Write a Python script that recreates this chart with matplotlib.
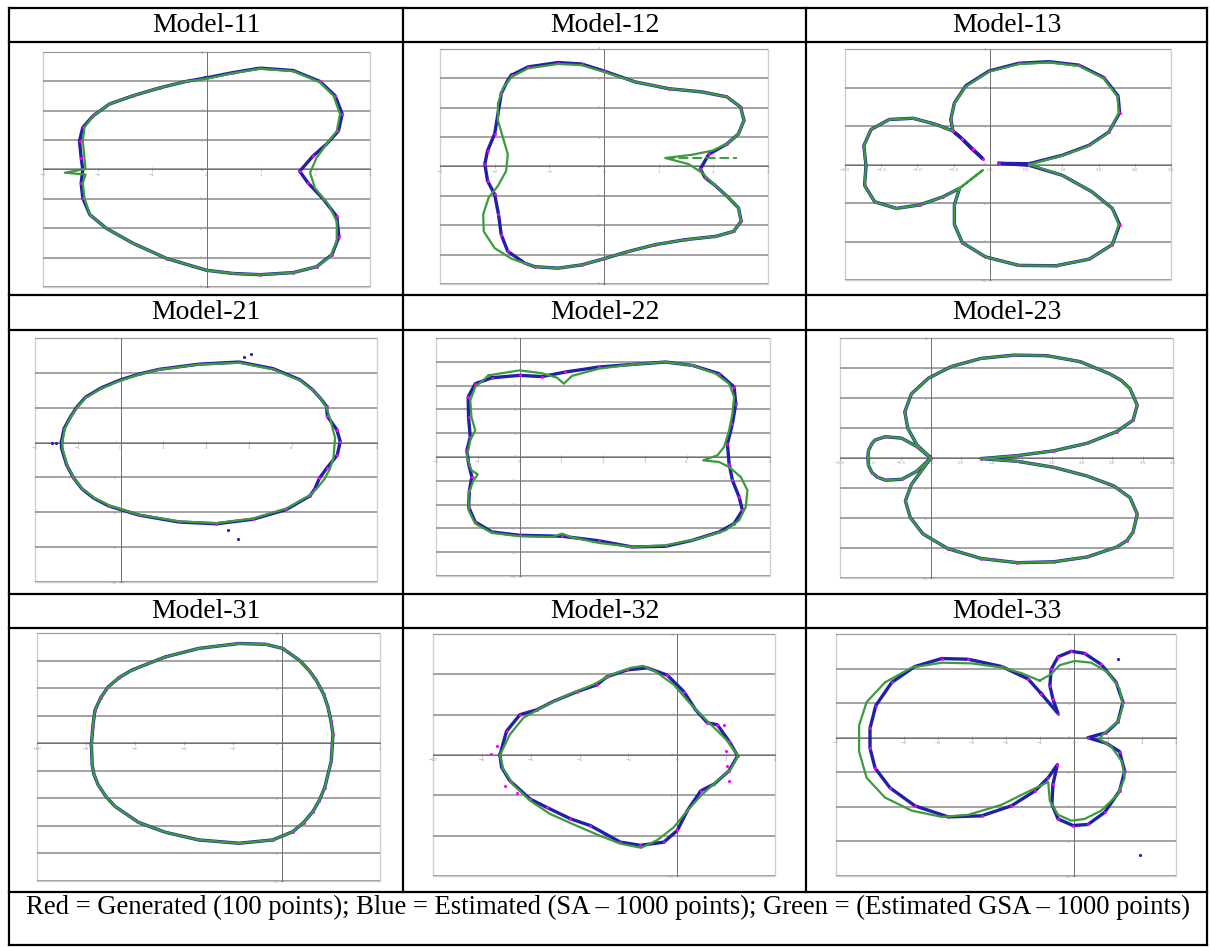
import matplotlib
matplotlib.use("Agg")
import matplotlib.pyplot as plt
from matplotlib.lines import Line2D
from matplotlib.patches import Rectangle
from matplotlib.ticker import MultipleLocator

W, H = 1210, 947

# --- data ----------------------------------------------------------------
model_names = ["Model-11", "Model-12", "Model-13",
               "Model-21", "Model-22", "Model-23",
               "Model-31", "Model-32", "Model-33"]

x_limits = [(-3, 3), (-3, 3), (-2, 2.5), (-2, 6), (-2, 6), (-1.5, 4), (-10, 4), (-10, 4), (-7, 3)]
y_limits = [(-4, 4), (-4, 4), (-3, 3), (-4, 3), (-5, 5), (-4, 4), (-5, 4), (-3, 3), (-4, 3)]
x_steps = [1, 1, 0.5, 1, 1, 0.5, 2, 2, 1]
y_steps = [1, 1, 1, 1, 1, 1, 1, 1, 1]

m11_green = [(0, 3.09), (0.49, 3.28), (0.98, 3.43), (1.59, 3.35), (2.08, 2.97), (2.33, 2.51), (2.45, 1.89),
             (2.39, 1.31), (2.20, 0.86), (2.02, 0.40), (1.90, -0.11), (1.99, -0.63), (2.24, -1.20), (2.39, -1.77),
             (2.39, -2.46), (2.27, -2.97), (2.02, -3.31), (1.59, -3.51), (0.98, -3.58), (0.49, -3.54), (0, -3.43),
             (-0.73, -3.03), (-1.35, -2.51), (-1.84, -2.0), (-2.14, -1.54), (-2.24, -0.97), (-2.27, -0.46),
             (-2.22, -0.17), (-2.60, -0.11), (-2.22, 0.02), (-2.24, 0.40), (-2.27, 0.97), (-2.24, 1.43),
             (-2.08, 1.83), (-1.78, 2.23), (-1.35, 2.51), (-0.86, 2.78), (-0.37, 3.0)]
m11_blue = [(0, 3.12), (0.49, 3.30), (0.98, 3.45), (1.59, 3.37), (2.08, 3.0), (2.36, 2.51), (2.49, 1.89),
            (2.42, 1.31), (2.20, 0.86), (1.95, 0.45), (1.71, -0.06), (1.86, -0.45), (2.14, -1.0), (2.39, -1.6),
            (2.43, -2.3), (2.30, -2.9), (2.02, -3.31), (1.59, -3.51), (0.98, -3.58), (0.49, -3.54), (0, -3.43),
            (-0.73, -3.03), (-1.35, -2.51), (-1.84, -2.0), (-2.14, -1.54), (-2.27, -0.97), (-2.30, -0.46),
            (-2.27, 0.0), (-2.30, 0.40), (-2.33, 0.97), (-2.27, 1.43), (-2.08, 1.83), (-1.78, 2.23),
            (-1.35, 2.51), (-0.86, 2.78), (-0.37, 3.0)]

m12_green = [(-1.69, 3.05), (-1.39, 3.34), (-0.84, 3.49), (-0.41, 3.45), (0, 3.22), (0.57, 2.88), (1.18, 2.65),
             (1.79, 2.54), (2.25, 2.37), (2.50, 2.02), (2.56, 1.57), (2.46, 1.11), (2.25, 0.77), (1.98, 0.54),
             (1.61, 0.40), (1.12, 0.29), (1.55, 0.08), (1.79, -0.21), (2.01, -0.61), (2.25, -1.01), (2.46, -1.41),
             (2.51, -1.86), (2.37, -2.21), (2.04, -2.38), (1.49, -2.49), (0.94, -2.66), (0.45, -2.89), (0, -3.14),
             (-0.41, -3.35), (-0.84, -3.46), (-1.27, -3.41), (-1.69, -3.14), (-2.0, -2.78), (-2.2, -2.21),
             (-2.21, -1.63), (-2.11, -1.06), (-1.94, -0.66), (-1.79, -0.15), (-1.76, 0.42), (-1.85, 0.99),
             (-1.94, 1.57), (-1.94, 2.14), (-1.85, 2.65)]
m12_green_tail = [(1.12, 0.29), (2.43, 0.29)]
m12_blue = [(-1.69, 3.11), (-1.39, 3.39), (-0.84, 3.54), (-0.41, 3.49), (0, 3.25), (0.57, 2.88), (1.18, 2.65),
            (1.79, 2.54), (2.25, 2.37), (2.50, 2.02), (2.56, 1.57), (2.46, 1.11), (2.25, 0.77), (1.92, 0.42),
            (1.76, -0.09), (1.85, -0.38), (2.01, -0.61), (2.25, -1.01), (2.46, -1.41), (2.51, -1.86), (2.37, -2.21),
            (2.04, -2.38), (1.49, -2.49), (0.94, -2.66), (0.45, -2.89), (0, -3.14), (-0.41, -3.35), (-0.84, -3.46),
            (-1.27, -3.41), (-1.45, -3.29), (-1.76, -2.89), (-1.88, -2.32), (-1.93, -1.63), (-2.0, -0.95),
            (-2.13, -0.49), (-2.18, 0.08), (-2.13, 0.54), (-2.0, 1.11), (-1.94, 1.79), (-1.88, 2.48), (-1.76, 2.94)]

m13_green = [(0.54, 0), (1.0, 0.23), (1.37, 0.49), (1.64, 0.83), (1.78, 1.34), (1.76, 1.77), (1.57, 2.24),
             (1.23, 2.56), (0.82, 2.65), (0.40, 2.61), (-0.01, 2.41), (-0.33, 2.03), (-0.49, 1.60), (-0.54, 1.17),
             (-0.51, 0.87), (-0.74, 1.04), (-1.06, 1.20), (-1.39, 1.17), (-1.64, 0.91), (-1.74, 0.49),
             (-1.71, -0.03), (-1.73, -0.54), (-1.59, -0.97), (-1.29, -1.14), (-0.97, -1.05), (-0.65, -0.84),
             (-0.42, -0.62), (-0.10, -0.15), (-0.42, -0.62), (-0.49, -1.05), (-0.49, -1.56), (-0.38, -2.03),
             (-0.06, -2.40), (0.40, -2.62), (0.91, -2.63), (1.37, -2.46), (1.69, -2.08), (1.78, -1.56),
             (1.69, -1.14), (1.41, -0.71), (1.0, -0.28)]
m13_blue = [(0.13, 0.03), (0.54, 0.02), (1.0, 0.24), (1.37, 0.50), (1.64, 0.84), (1.79, 1.34), (1.77, 1.78),
            (1.57, 2.26), (1.23, 2.58), (0.82, 2.67), (0.40, 2.63), (-0.01, 2.43), (-0.33, 2.05), (-0.49, 1.60),
            (-0.54, 1.17), (-0.51, 0.87), (-0.38, 0.66), (-0.24, 0.40), (-0.10, 0.15), (-0.24, 0.40),
            (-0.38, 0.66), (-0.51, 0.87), (-0.74, 1.04), (-1.06, 1.20), (-1.39, 1.17), (-1.64, 0.91),
            (-1.74, 0.49), (-1.71, -0.03), (-1.73, -0.54), (-1.59, -0.97), (-1.29, -1.14), (-0.97, -1.05),
            (-0.65, -0.84), (-0.42, -0.62), (-0.49, -1.05), (-0.49, -1.56), (-0.38, -2.03), (-0.06, -2.40),
            (0.40, -2.62), (0.91, -2.63), (1.37, -2.46), (1.69, -2.08), (1.79, -1.56), (1.69, -1.14),
            (1.41, -0.71), (1.0, -0.28), (0.54, -0.02)]

m21_green = [(-1.36, 0.03), (-1.30, 0.40), (-1.18, 0.70), (-1.02, 1.00), (-0.82, 1.28), (-0.45, 1.55), (0, 1.78),
             (0.45, 1.96), (0.90, 2.09), (1.84, 2.24), (2.78, 2.29), (3.57, 2.10), (4.20, 1.78), (4.48, 1.52),
             (4.67, 1.28), (4.82, 1.00), (4.90, 0.70), (5.02, 0.13), (4.98, -0.45), (4.90, -0.75), (4.78, -1.03),
             (4.62, -1.28), (4.43, -1.51), (3.88, -1.89), (3.10, -2.18), (2.24, -2.31), (1.37, -2.26),
             (0.43, -2.07), (-0.27, -1.80), (-0.62, -1.58), (-0.90, -1.32), (-1.10, -1.00), (-1.25, -0.64),
             (-1.36, -0.16)]
m21_blue = [(-1.38, 0.03), (-1.32, 0.40), (-1.18, 0.72), (-1.02, 1.02), (-0.82, 1.30), (-0.45, 1.57), (0, 1.80),
            (0.45, 1.97), (0.90, 2.10), (1.84, 2.25), (2.78, 2.31), (3.57, 2.12), (4.20, 1.80), (4.48, 1.53),
            (4.67, 1.28), (4.82, 1.04), (4.84, 0.75), (5.06, 0.37), (5.14, 0.03), (5.07, -0.36), (4.82, -0.74),
            (4.65, -1.03), (4.55, -1.32), (4.43, -1.53), (3.88, -1.92), (3.10, -2.20), (2.24, -2.33),
            (1.37, -2.28), (0.43, -2.08), (-0.27, -1.82), (-0.62, -1.60), (-0.90, -1.33), (-1.10, -1.01),
            (-1.26, -0.64), (-1.38, -0.16)]
m21_stray = [(2.90, 2.45), (3.06, 2.55), (2.51, -2.52), (2.75, -2.78), (-1.61, 0.0), (-1.5, 0.0)]

m22_green = [(-0.74, 3.43), (0, 3.64), (0.54, 3.52), (0.90, 3.33), (1.06, 3.08), (1.26, 3.41), (1.90, 3.71),
             (2.70, 3.89), (3.50, 3.99), (4.14, 3.85), (4.70, 3.50), (5.02, 3.08), (5.14, 2.52), (5.10, 1.82),
             (5.02, 1.12), (4.90, 0.42), (4.74, 0.07), (4.40, -0.14), (4.78, -0.21), (5.02, -0.42), (5.30, -0.84),
             (5.46, -1.40), (5.42, -2.10), (5.26, -2.66), (4.94, -3.08), (4.30, -3.43), (3.50, -3.71),
             (2.70, -3.78), (1.90, -3.61), (1.26, -3.38), (1.02, -3.22), (0.78, -3.36), (0, -3.33), (-0.66, -3.19),
             (-1.06, -2.80), (-1.22, -2.24), (-1.22, -1.54), (-1.10, -0.98), (-1.0, -0.73), (-1.15, -0.56),
             (-1.26, 0), (-1.18, 0.70), (-1.06, 1.12), (-1.15, 1.68), (-1.18, 2.38), (-1.06, 2.94)]
m22_blue = [(-0.66, 3.33), (0, 3.43), (0.54, 3.38), (1.10, 3.57), (1.90, 3.78), (2.70, 3.89), (3.50, 3.99),
            (4.14, 3.85), (4.78, 3.50), (5.14, 2.94), (5.18, 2.24), (5.10, 1.40), (4.98, 0.56), (5.02, -0.28),
            (5.10, -0.98), (5.26, -1.68), (5.34, -2.24), (5.14, -2.80), (4.78, -3.15), (4.14, -3.50),
            (3.50, -3.75), (2.70, -3.78), (1.90, -3.52), (1.02, -3.33), (0, -3.29), (-0.66, -3.15), (-1.06, -2.73),
            (-1.22, -2.10), (-1.20, -1.40), (-1.14, -0.84), (-1.22, -0.28), (-1.26, 0.28), (-1.18, 0.84),
            (-1.22, 1.68), (-1.23, 2.52), (-1.06, 3.08)]

m23_green = [(0, 0), (-0.23, 0.38), (-0.48, 0.66), (-0.75, 0.71), (-0.92, 0.60), (-0.97, 0.49), (-1.03, 0.25),
             (-1.04, 0), (-1.03, -0.25), (-0.97, -0.49), (-0.88, -0.64), (-0.75, -0.74), (-0.48, -0.71),
             (-0.23, -0.44), (0, 0), (-0.32, -0.88), (-0.42, -1.43), (-0.34, -1.98), (-0.13, -2.53),
             (0.28, -3.02), (0.83, -3.35), (1.43, -3.49), (2.03, -3.46), (2.58, -3.30), (3.07, -2.97),
             (3.24, -2.75), (3.34, -2.47), (3.41, -1.87), (3.29, -1.32), (3.02, -0.93), (2.58, -0.60),
             (2.03, -0.31), (1.43, -0.11), (0.83, -0.02), (1.43, 0.08), (2.03, 0.24), (2.58, 0.49), (3.07, 0.88),
             (3.34, 1.26), (3.41, 1.76), (3.29, 2.31), (3.15, 2.58), (2.96, 2.80), (2.47, 3.21), (1.92, 3.41),
             (1.38, 3.43), (0.83, 3.32), (0.34, 3.05), (-0.04, 2.66), (-0.32, 2.14), (-0.43, 1.54),
             (-0.38, 0.99), (-0.23, 0.44)]
m23_blue = list(m23_green)

m31_green = [(-7.78, -0.04), (-7.72, 0.60), (-7.64, 1.18), (-7.40, 1.65), (-7.10, 2.04), (-6.65, 2.38),
             (-6.14, 2.65), (-4.77, 3.13), (-3.40, 3.44), (-1.75, 3.62), (-0.66, 3.59), (0.03, 3.44),
             (0.71, 3.01), (1.10, 2.65), (1.40, 2.28), (1.70, 1.78), (1.88, 1.30), (2.00, 0.80), (2.08, 0.33),
             (2.01, -0.65), (1.74, -1.62), (1.52, -2.08), (1.26, -2.48), (0.88, -2.88), (0.44, -3.21),
             (-0.38, -3.51), (-1.75, -3.63), (-3.40, -3.51), (-4.77, -3.23), (-5.86, -2.87), (-6.82, -2.29),
             (-7.20, -1.92), (-7.51, -1.50), (-7.68, -1.12), (-7.75, -0.77)]
m31_blue = list(m31_green)

m32_green = [(-7.26, 0), (-6.85, 0.51), (-6.30, 0.92), (-5.48, 1.20), (-4.52, 1.48), (-3.42, 1.75), (-2.74, 1.98),
             (-1.92, 2.16), (-1.40, 2.21), (-0.89, 2.07), (-0.14, 1.74), (0.55, 1.26), (1.30, 0.80), (1.99, 0.39),
             (2.49, -0.02), (2.19, -0.35), (1.64, -0.64), (1.03, -0.97), (0.41, -1.38), (-0.14, -1.79),
             (-0.82, -2.11), (-1.48, -2.30), (-2.33, -2.20), (-3.29, -1.97), (-4.25, -1.72), (-5.21, -1.46),
             (-6.03, -1.13), (-6.71, -0.74), (-7.12, -0.35)]
m32_blue = [(-7.26, 0), (-6.99, 0.59), (-6.44, 1.0), (-5.75, 1.12), (-5.07, 1.33), (-4.11, 1.57), (-3.29, 1.74),
            (-2.88, 1.94), (-2.05, 2.11), (-1.23, 2.16), (-0.41, 1.98), (0.27, 1.57), (0.75, 1.12), (1.23, 0.80),
            (1.64, 0.75), (2.12, 0.34), (2.47, -0.02), (2.12, -0.39), (1.51, -0.72), (0.96, -0.89), (0.41, -1.38),
            (0, -1.87), (-0.55, -2.16), (-1.51, -2.24), (-2.33, -2.16), (-3.56, -1.75), (-4.38, -1.58),
            (-5.34, -1.30), (-6.03, -1.09), (-6.85, -0.64), (-7.19, -0.31)]
m32_red_stray = [(-7.64, 0.02), (-7.4, 0.22), (-7.06, -0.76), (-6.58, -0.93), (1.92, 0.75), (1.99, 0.10),
                 (2.05, -0.27), (2.12, -0.64)]

m33_green = [(-1.01, 1.65), (-0.67, 1.84), (-0.42, 2.10), (0.02, 2.22), (0.51, 2.17), (1.0, 1.89), (1.34, 1.41),
             (1.44, 0.93), (1.29, 0.46), (0.85, 0.10), (0.75, -0.04), (1.10, -0.26), (1.41, -0.69), (1.49, -1.16),
             (1.29, -1.64), (0.80, -2.11), (0.31, -2.35), (-0.08, -2.40), (-0.47, -2.23), (-0.71, -1.83),
             (-0.76, -1.28), (-1.35, -1.56), (-2.13, -1.94), (-3.11, -2.23), (-3.89, -2.29), (-4.77, -2.11),
             (-5.56, -1.73), (-6.10, -1.16), (-6.32, -0.40), (-6.32, 0.36), (-6.10, 1.03), (-5.56, 1.60),
             (-4.77, 2.03), (-3.89, 2.17), (-3.01, 2.15), (-2.13, 2.03), (-1.55, 1.87)]
m33_blue = [(-0.96, 1.27), (-1.35, 1.70), (-2.13, 2.06), (-3.11, 2.27), (-3.89, 2.29), (-4.68, 2.06), (-5.36, 1.60),
            (-5.83, 0.93), (-6.0, 0.27), (-6.0, -0.30), (-5.85, -0.88), (-5.41, -1.45), (-4.68, -1.97),
            (-3.70, -2.29), (-2.72, -2.26), (-1.84, -1.97), (-1.15, -1.54), (-0.76, -1.16), (-0.49, -0.78),
            (-0.62, -1.35), (-0.65, -1.92), (-0.47, -2.35), (-0.03, -2.54), (0.41, -2.51), (0.90, -2.16),
            (1.34, -1.54), (1.49, -0.97), (1.34, -0.40), (0.95, -0.16), (0.41, 0), (0.95, 0.15), (1.29, 0.46),
            (1.44, 1.03), (1.24, 1.60), (0.80, 2.12), (0.31, 2.44), (-0.08, 2.50), (-0.47, 2.34), (-0.67, 1.98),
            (-0.71, 1.50), (-0.62, 1.12), (-0.47, 0.70)]
m33_stray = [(1.29, 2.27), (1.93, -3.40)]

green_curves = [m11_green, m12_green, m13_green, m21_green, m22_green, m23_green, m31_green, m32_green, m33_green]
blue_curves = [m11_blue, m12_blue, m13_blue, m21_blue, m22_blue, m23_blue, m31_blue, m32_blue, m33_blue]
blue_stray = [[], [], [], m21_stray, [], [], [], [], m33_stray]
red_stray = [[], [], [], [], [], [], [], m32_red_stray, []]

footer = ("Red = Generated (100 points); Blue = Estimated (SA \u2013 1000 points); "
          "Green = (Estimated GSA \u2013 1000 points)")

# plot boxes in pixels (left, top, right, bottom)
plot_boxes = [(43, 52, 370, 287), (440, 49, 768, 284), (845, 49, 1171, 280),
              (35, 338, 377, 582), (436, 338, 770, 576), (840, 338, 1173, 578),
              (37, 633, 380, 881), (433, 634, 775, 876), (836, 634, 1176, 876)]

RED = "#ff00ff"
BLUE = "#2020a8"
GREEN = "#3c9c3c"

fig = plt.figure(figsize=(W / 100, H / 100), dpi=100)
fig.patch.set_facecolor("white")


def fx(px):
    return px / W


def fy(py):
    return 1 - py / H


def closed(pts):
    xs = [p[0] for p in pts] + [pts[0][0]]
    ys = [p[1] for p in pts] + [pts[0][1]]
    return xs, ys


for i, name in enumerate(model_names):
    l, t, r, b = plot_boxes[i]
    ax = fig.add_axes([fx(l), fy(b), (r - l) / W, (b - t) / H])
    ax.set_xlim(x_limits[i])
    ax.set_ylim(y_limits[i])
    ax.xaxis.set_major_locator(MultipleLocator(x_steps[i]))
    ax.yaxis.set_major_locator(MultipleLocator(y_steps[i]))
    ax.grid(axis="y", color="#8a8a8a", lw=1.1)
    ax.set_axisbelow(True)
    for s in ["top", "right"]:
        ax.spines[s].set_visible(False)
    for s in ["left", "bottom"]:
        ax.spines[s].set_position(("data", 0))
        ax.spines[s].set_color("#707070")
        ax.spines[s].set_linewidth(0.7)
    ax.tick_params(direction="inout", length=3, width=0.5, colors="#a0a0a0", labelsize=3, pad=1)
    ax.add_patch(Rectangle((0, 0), 1, 1, transform=ax.transAxes, fill=False,
                           ec="#cfcfcf", lw=1.0, clip_on=False, zorder=0))

    bx, by = closed(blue_curves[i])
    gx, gy = closed(green_curves[i])
    ax.plot(bx, by, color=BLUE, lw=2.4, zorder=3, solid_joinstyle="round")
    ax.plot([p[0] for p in blue_curves[i]], [p[1] for p in blue_curves[i]], ".",
            color=RED, ms=2.2, zorder=4)
    if blue_stray[i]:
        ax.plot([p[0] for p in blue_stray[i]], [p[1] for p in blue_stray[i]], ".",
                color=BLUE, ms=2.5, zorder=4)
    if red_stray[i]:
        ax.plot([p[0] for p in red_stray[i]], [p[1] for p in red_stray[i]], ".",
                color=RED, ms=2.5, zorder=4)
    ax.plot(gx, gy, color=GREEN, lw=1.6, zorder=5, solid_joinstyle="round")
    if i == 1:
        ax.plot([p[0] for p in m12_green_tail], [p[1] for p in m12_green_tail],
                color=GREEN, lw=1.4, ls=(0, (5, 2)), zorder=5)

# header cells and table rules
col_edges = [9, 403, 806, 1207]
header_rows = [(8, 42), (295, 330), (594, 628)]
for i, name in enumerate(model_names):
    row, col = divmod(i, 3)
    cx = (col_edges[col] + col_edges[col + 1]) / 2
    cy = sum(header_rows[row]) / 2
    fig.text(fx(cx), fy(cy), name, ha="center", va="center",
             family="Liberation Serif", fontsize=20)

fig.text(fx(26), fy(907), footer, ha="left", va="center",
         family="Liberation Serif", fontsize=19.2)

rule = dict(color="black", lw=1.6)
for y in [8, 42, 295, 330, 594, 628, 892, 945]:
    fig.add_artist(Line2D([fx(9), fx(1207)], [fy(y), fy(y)], **rule))
for x in [9, 1207]:
    fig.add_artist(Line2D([fx(x), fx(x)], [fy(8), fy(945)], **rule))
for x in [403, 806]:
    fig.add_artist(Line2D([fx(x), fx(x)], [fy(8), fy(892)], **rule))

fig.savefig("out.png", dpi=100, facecolor="white")
